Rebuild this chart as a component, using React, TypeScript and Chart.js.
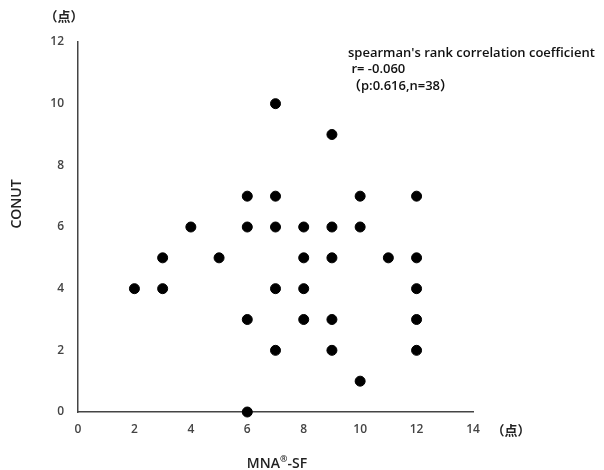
import React, { useEffect, useRef } from "react";
import { Chart, registerables } from "chart.js";

Chart.register(...registerables);

const mnaScores = [2, 3, 3, 4, 5, 6, 6, 6, 6, 7, 7, 7, 7, 7, 8, 8, 8, 8, 9, 9, 9, 9, 9, 10, 10, 10, 11, 12, 12, 12, 12, 12];
const conutScores = [4, 5, 4, 6, 5, 7, 6, 3, 0, 10, 7, 6, 4, 2, 6, 5, 4, 3, 9, 6, 5, 3, 2, 7, 6, 1, 5, 7, 5, 4, 3, 2];
const xTicks = [0, 2, 4, 6, 8, 10, 12, 14];
const yTicks = [0, 2, 4, 6, 8, 10, 12];
const annotationLines = ["spearman's rank correlation coefficient", " r= -0.060", "（p:0.616,n=38）"];
const unitLabel = "（点）";
const yTitle = "CONUT";
const xTitleParts = ["MNA", "®", "-SF"];

const FONT = "'Open Sans', 'Noto Sans CJK JP', sans-serif";

const textPlugin = {
  id: "texts",
  afterDraw(chart: any) {
    const ctx = chart.ctx;
    const a = chart.chartArea;
    ctx.save();
    ctx.fillStyle = "#222";
    // units
    ctx.font = `bold 13px ${FONT}`;
    ctx.textAlign = "center";
    ctx.textBaseline = "middle";
    ctx.fillText(unitLabel, a.left - 14, a.top - 25);
    ctx.fillText(unitLabel, a.right + 38, a.bottom + 19);
    // y title
    ctx.font = `600 14px ${FONT}`;
    ctx.save();
    ctx.translate(17, (a.top + a.bottom) / 2 - 23);
    ctx.rotate(-Math.PI / 2);
    ctx.fillText(yTitle, 0, 0);
    ctx.restore();
    // x title with superscript
    ctx.textAlign = "left";
    const big = `600 14px ${FONT}`;
    const small = `600 9px ${FONT}`;
    ctx.font = big;
    const w0 = ctx.measureText(xTitleParts[0]).width;
    const w2 = ctx.measureText(xTitleParts[2]).width;
    ctx.font = small;
    const w1 = ctx.measureText(xTitleParts[1]).width;
    const total = w0 + w1 + w2;
    let x = a.left + 199 - total / 2;
    const y = a.bottom + 52;
    ctx.font = big;
    ctx.fillText(xTitleParts[0], x, y);
    x += w0;
    ctx.font = small;
    ctx.fillText(xTitleParts[1], x, y - 5);
    x += w1;
    ctx.font = big;
    ctx.fillText(xTitleParts[2], x, y);
    // annotation
    ctx.font = `600 13px ${FONT}`;
    ctx.fillStyle = "#111";
    annotationLines.forEach((l, i) => {
      ctx.fillText(l, 348, 53 + i * 16.5);
    });
    ctx.restore();
  },
};

export default function App() {
  const ref = useRef<HTMLCanvasElement>(null);
  useEffect(() => {
    if (!ref.current) return;
    const chart = new Chart(ref.current, {
      type: "scatter",
      data: {
        datasets: [
          {
            data: mnaScores.map((x, i) => ({ x, y: conutScores[i] })),
            backgroundColor: "#000",
            borderColor: "#000",
            pointRadius: 5,
            pointHoverRadius: 5,
            clip: false as any,
          },
        ],
      },
      options: {
        animation: false,
        responsive: false,
        maintainAspectRatio: false,
        layout: { padding: { top: 42, right: 131, left: 0, bottom: 0 } },
        plugins: { legend: { display: false }, tooltip: { enabled: false } },
        scales: {
          x: {
            type: "linear",
            min: 0,
            max: 14,
            afterBuildTicks: (s: any) => {
              s.ticks = xTicks.map((v) => ({ value: v }));
            },
            afterFit: (s: any) => {
              s.height = 58;
            },
            grid: { display: false, drawTicks: false },
            border: { display: true, color: "#444", width: 1.5 },
            ticks: { color: "#444", font: { family: FONT, size: 12, weight: "600" as any }, padding: 10, maxRotation: 0 },
          },
          y: {
            type: "linear",
            min: 0,
            max: 12,
            afterBuildTicks: (s: any) => {
              s.ticks = yTicks.map((v) => ({ value: v }));
            },
            afterFit: (s: any) => {
              s.width = 78;
            },
            grid: { display: false, drawTicks: false },
            border: { display: true, color: "#444", width: 1.5 },
            ticks: { color: "#444", font: { family: FONT, size: 12, weight: "600" as any }, padding: 14 },
          },
        },
      },
      plugins: [textPlugin],
    });
    return () => chart.destroy();
  }, []);
  return (
    <div style={{ position: "absolute", left: 0, top: 0, width: 604, height: 470, background: "#fff" }}>
      <canvas ref={ref} width={604} height={470} style={{ width: 604, height: 470 }} />
    </div>
  );
}
